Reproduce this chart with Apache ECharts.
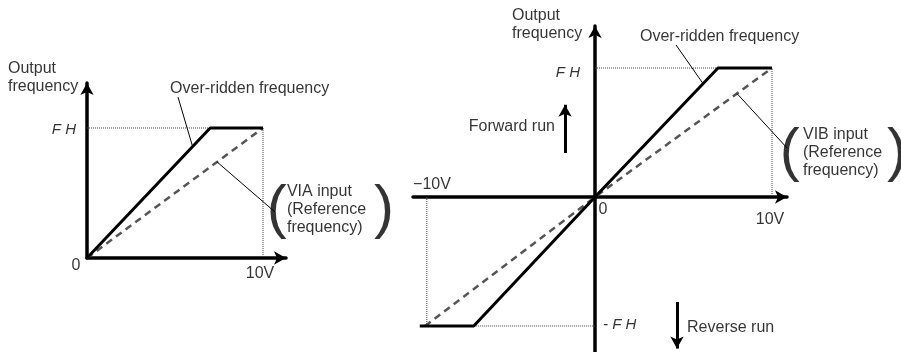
<!DOCTYPE html>
<html>
<head>
<meta charset="utf-8">
<script src="https://cdn.jsdelivr.net/npm/echarts@6/dist/echarts.min.js"></script>
<style>
    html, body { margin: 0; padding: 0; background: #fff; }
    #chart { width: 901px; height: 352px; }
</style>
</head>
<body>
<div id="chart"></div>
<script>
// x = input voltage (V), y = output frequency as a fraction of FH
const viaRefV = [0, 10];
const viaRefF = [0, 1];
const viaOverV = [0, 7.0, 10];
const viaOverF = [0, 1, 1];

const vibRefV = [-9.6, 0, 10];
const vibRefF = [-1, 0, 1];
const vibOverV = [-9.9, -6.85, 0, 6.95, 10];
const vibOverF = [-1, -1, 0, 1, 1];

const vibNegV = -9.5;   // where the -10V guide is drawn
const maxV = 10;
const fh = 1;

const voltLabels = ['0', '10V', '\u221210V'];
const levelLabels = ['F H', '- F H'];

const FONT = "'Liberation Sans', Arial, sans-serif";

function pts(xs, ys) {
    return xs.map((x, i) => [x, ys[i]]);
}

function lineSeries(g, data, style) {
    return {
        type: 'line',
        xAxisIndex: g,
        yAxisIndex: g,
        data: data,
        symbol: 'none',
        clip: false,
        silent: true,
        lineStyle: style,
        z: style.z || 2
    };
}

function textSeries(g, items) {
    return {
        type: 'scatter',
        xAxisIndex: g,
        yAxisIndex: g,
        symbolSize: 1,
        clip: false,
        silent: true,
        itemStyle: { color: 'rgba(0,0,0,0)' },
        z: 5,
        data: items.map(it => ({
            value: [it.v, it.f],
            label: {
                show: true,
                position: 'inside',
                formatter: it.t,
                align: it.align || 'left',
                verticalAlign: 'middle',
                color: '#000',
                fontFamily: FONT,
                fontSize: it.size || 16,
                fontStyle: it.italic ? 'italic' : 'normal',
                lineHeight: it.lh || 18
            }
        }))
    };
}

const solid = { color: '#000', width: 3, type: 'solid' };
const dashed = { color: '#555', width: 2.5, type: [7, 5] };
const dotted = { color: '#444', width: 1, type: [1, 1], z: 1 };
const leader = { color: '#000', width: 1, type: 'solid', z: 3 };

const axisLine = (arrows) => ({
    show: true,
    onZero: true,
    symbol: arrows,
    symbolSize: [10, 12],
    lineStyle: { color: '#000', width: 3.5 }
});

function valueAxis(g, min, max, arrows) {
    return {
        type: 'value',
        gridIndex: g,
        min: min,
        max: max,
        axisLine: axisLine(arrows),
        axisTick: { show: false },
        axisLabel: { show: false },
        splitLine: { show: false }
    };
}

const option = {
    animation: false,
    backgroundColor: '#fff',
    grid: [
        { left: 87, top: 83, width: 199, height: 175 },
        { left: 413, top: 26, width: 374, height: 326 }
    ],
    xAxis: [
        valueAxis(0, 0, 11.307, ['none', 'arrow']),
        valueAxis(1, -10.282, 10.847, ['none', 'arrow'])
    ],
    yAxis: [
        valueAxis(0, 0, 1.346, ['none', 'arrow']),
        valueAxis(1, -1.2016, 1.3256, ['none', 'arrow'])
    ],
    series: [
        // left: VIA input
        lineSeries(0, [[0, fh], [maxV, fh], [maxV, 0]], dotted),
        lineSeries(0, pts(viaRefV, viaRefF), dashed),
        lineSeries(0, pts(viaOverV, viaOverF), solid),
        lineSeries(0, [[5.17, 1.238], [6.0, 0.857]], leader),
        lineSeries(0, [[7.39, 0.739], [10.68, 0.354]], leader),
        textSeries(0, [
            { t: 'Output\nfrequency', v: -4.49, f: 1.385 },
            { t: 'Over-ridden frequency', v: 4.72, f: 1.30 },
            { t: levelLabels[0], v: -0.625, f: 0.985, align: 'right', italic: true, size: 15 },
            { t: voltLabels[0], v: -0.625, f: -0.06, align: 'center' },
            { t: voltLabels[1], v: 9.83, f: -0.123, align: 'center' },
            { t: 'VIA input\n(Reference\nfrequency)', v: 11.36, f: 0.369 },
            { t: '(', v: 10.78, f: 0.369, align: 'center', size: 60, lh: 64 },
            { t: ')', v: 16.875, f: 0.369, align: 'center', size: 60, lh: 64 }
        ]),

        // right: VIB input
        lineSeries(1, [[0, fh], [maxV, fh], [maxV, 0]], dotted),
        lineSeries(1, [[vibNegV, 0], [vibNegV, -fh], [0, -fh]], dotted),
        lineSeries(1, pts(vibRefV, vibRefF), dashed),
        lineSeries(1, pts(vibOverV, vibOverF), solid),
        lineSeries(1, [[4.58, 1.178], [6.1, 0.88]], leader),
        lineSeries(1, [[8.02, 0.802], [10.85, 0.38]], leader),
        {
            type: 'line',
            xAxisIndex: 1,
            yAxisIndex: 1,
            data: [],
            silent: true,
            markLine: {
                silent: true,
                symbol: ['none', 'arrow'],
                symbolSize: [10, 12],
                label: { show: false },
                lineStyle: { color: '#000', width: 3, type: 'solid' },
                data: [
                    [{ coord: [-1.69, 0.341] }, { coord: [-1.69, 0.715] }],
                    [{ coord: [4.63, -0.814] }, { coord: [4.63, -1.175] }]
                ]
            }
        },
        textSeries(1, [
            { t: 'Output\nfrequency', v: -4.69, f: 1.333 },
            { t: 'Over-ridden frequency', v: 2.54, f: 1.24 },
            { t: levelLabels[0], v: -0.847, f: 0.961, align: 'right', italic: true, size: 15 },
            { t: 'Forward run', v: -2.26, f: 0.543, align: 'right' },
            { t: voltLabels[2], v: -10.28, f: 0.093 },
            { t: voltLabels[0], v: 0.45, f: -0.10, align: 'center' },
            { t: voltLabels[1], v: 9.89, f: -0.178, align: 'center' },
            { t: levelLabels[1], v: 0.45, f: -0.992, italic: true, size: 15 },
            { t: 'Reverse run', v: 5.2, f: -1.016 },
            { t: 'VIB input\n(Reference\nfrequency)', v: 11.75, f: 0.341 },
            { t: '(', v: 11.0, f: 0.341, align: 'center', size: 60, lh: 64 },
            { t: ')', v: 17.06, f: 0.341, align: 'center', size: 60, lh: 64 }
        ])
    ]
};

const chart = echarts.init(document.getElementById('chart'), null, { renderer: 'canvas' });
chart.setOption(option);
</script>
</body>
</html>
